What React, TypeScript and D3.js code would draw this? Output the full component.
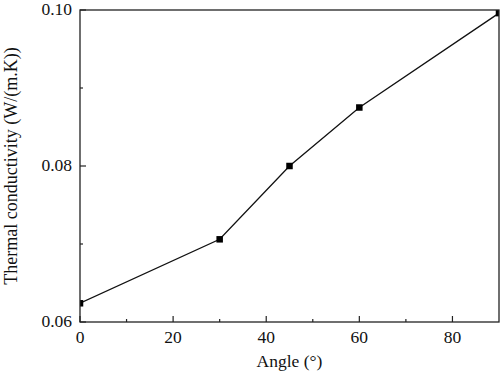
import React from "react";
import * as d3 from "d3";

const angles = [0, 30, 45, 60, 90];
const conductivity = [0.0624, 0.0706, 0.08, 0.0875, 0.0996];
const xTicks = [0, 20, 40, 60, 80];
const xMinor = [10, 30, 50, 70];
const yTicks = [0.06, 0.08, 0.1];
const yTickLabels = ["0.06", "0.08", "0.10"];
const yMinor = [0.07, 0.09];

export default function App() {
  const W = 500, H = 383;
  const L = 80, R = 499, T = 10, B = 322;
  const x = d3.scaleLinear().domain([0, 90]).range([L, R]);
  const y = d3.scaleLinear().domain([0.06, 0.1]).range([B, T]);
  const line = d3.line<number>().x((_, i) => x(angles[i])).y((d) => y(d));
  const font = "'Liberation Serif', 'Times New Roman', serif";
  const ms = 6.5;
  const fs = 17.5;
  return (
    <svg width={W} height={H} style={{ position: "absolute", left: 0, top: 0, background: "#fff" }}>
      <defs>
        <clipPath id="plot">
          <rect x={L} y={T} width={R - L} height={B - T} />
        </clipPath>
      </defs>
      <g clipPath="url(#plot)">
        <path d={line(conductivity) || ""} fill="none" stroke="#111" strokeWidth={1.3} />
        {conductivity.map((v, i) => (
          <rect key={i} x={x(angles[i]) - ms / 2} y={y(v) - ms / 2} width={ms} height={ms} fill="#000" />
        ))}
      </g>
      <rect x={L} y={T} width={R - L} height={B - T} fill="none" stroke="#222" strokeWidth={1.3} />
      {xTicks.map((t) => (
        <g key={"x" + t}>
          <line x1={x(t)} x2={x(t)} y1={B} y2={B - 6} stroke="#222" strokeWidth={1.2} />
          <text x={x(t)} y={343} textAnchor="middle" fontFamily={font} fontSize={fs} fill="#111">{t}</text>
        </g>
      ))}
      {xMinor.map((t) => (
        <line key={"xm" + t} x1={x(t)} x2={x(t)} y1={B} y2={B - 3} stroke="#222" strokeWidth={1.2} />
      ))}
      {yTicks.map((t, i) => (
        <g key={"y" + t}>
          <line x1={L} x2={L + 6} y1={y(t)} y2={y(t)} stroke="#222" strokeWidth={1.2} />
          <text x={72} y={y(t) + 5} textAnchor="end" fontFamily={font} fontSize={fs} fill="#111">{yTickLabels[i]}</text>
        </g>
      ))}
      {yMinor.map((t) => (
        <line key={"ym" + t} x1={L} x2={L + 3} y1={y(t)} y2={y(t)} stroke="#222" strokeWidth={1.2} />
      ))}
      <text x={(L + R) / 2} y={367} textAnchor="middle" fontFamily={font} fontSize={fs} fill="#111">Angle (°)</text>
      <text transform={`translate(17,${(T + B) / 2}) rotate(-90)`} textAnchor="middle" fontFamily={font} fontSize={18} fill="#111">Thermal conductivity (W/(m.K))</text>
    </svg>
  );
}
